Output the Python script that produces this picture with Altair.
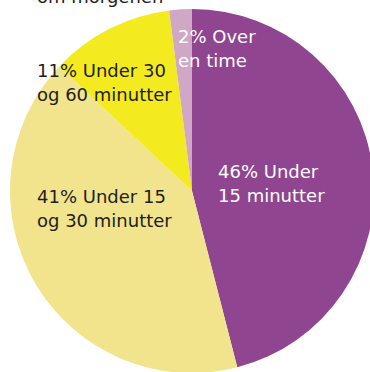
import altair as alt
import pandas as pd

categories = ["Under 15 minutter", "Under 15 og 30 minutter", "Under 30 og 60 minutter", "Over en time"]
shares = [46, 41, 11, 2]
label_lines = [
    ["46% Under", "15 minutter"],
    ["41% Under 15", "og 30 minutter"],
    ["11% Under 30", "og 60 minutter"],
    ["2% Over", "en time"],
]
title_text = "om morgenen"

colors = ["#8F4590", "#F2E38D", "#F3EB1F", "#D0A8C5"]
label_colors = ["#ffffff", "#1e1e1e", "#1e1e1e", "#ffffff"]
# label anchor (left x, first-line baseline y) in pixels
label_pos = [(218, 178), (37, 203), (37, 77), (178, 43)]

FONT = "DejaVu Sans"
FS = 18

df = pd.DataFrame({"cat": categories, "share": shares, "idx": list(range(len(shares)))})

pie = alt.Chart(df).mark_arc(radius=182).encode(
    theta=alt.Theta("share:Q", stack=True),
    color=alt.Color("cat:N", scale=alt.Scale(domain=categories, range=colors), legend=None),
    order=alt.Order("idx:Q"),
    x=alt.value(192),
    y=alt.value(191),
)

layers = [pie]
for lines, col, (lx, ly) in zip(label_lines, label_colors, label_pos):
    t = alt.Chart(pd.DataFrame({"t": ["\n".join(lines)]})).mark_text(
        font=FONT, fontSize=FS, align="left", baseline="alphabetic",
        lineBreak="\n", lineHeight=24, color=col,
    ).encode(text="t:N", x=alt.value(lx), y=alt.value(ly))
    layers.append(t)

title = alt.Chart(pd.DataFrame({"t": [title_text]})).mark_text(
    font=FONT, fontSize=FS, align="left", baseline="alphabetic", color="#1e1e1e",
).encode(text="t:N", x=alt.value(37), y=alt.value(3))
layers.append(title)

chart = alt.layer(*layers).properties(
    width=370, height=372,
    autosize=alt.AutoSizeParams(type="none"),
    padding=0,
).configure_view(stroke=None)

chart.save("out.html", embed_options={"renderer": "svg", "actions": False})
